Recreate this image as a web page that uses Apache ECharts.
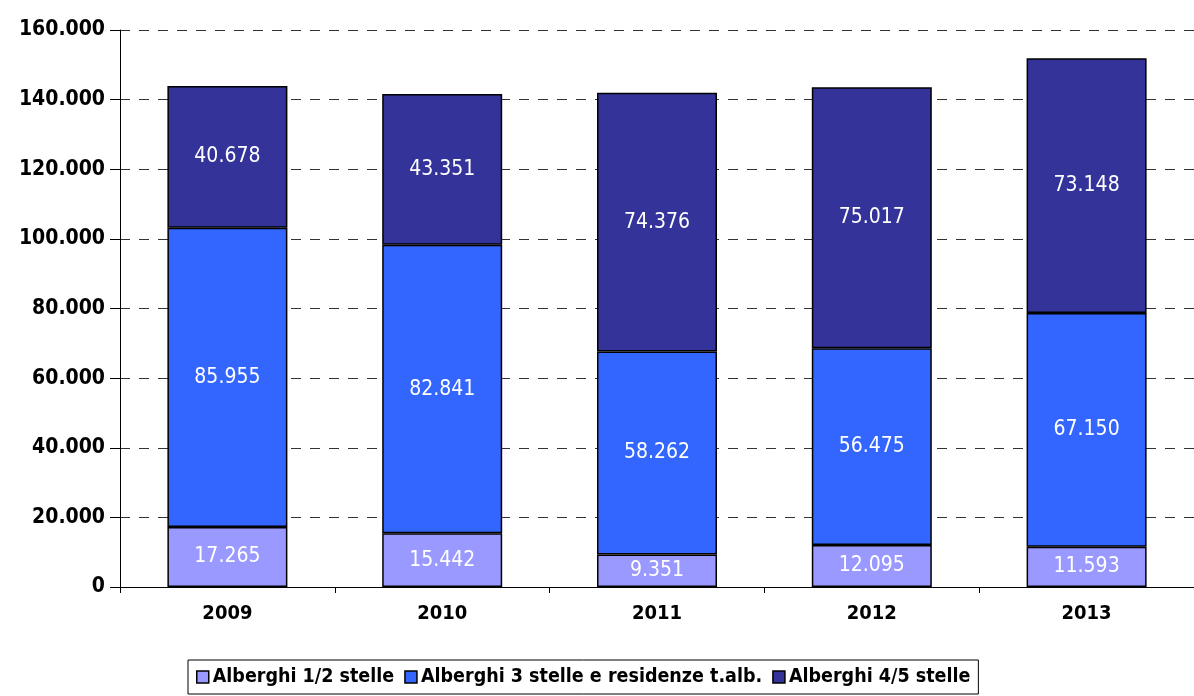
<!DOCTYPE html>
<html>
<head>
<meta charset="utf-8">
<script src="https://cdn.jsdelivr.net/npm/echarts@6/dist/echarts.min.js"></script>
<style>
  html, body { margin: 0; padding: 0; background: #fff; }
  #chart { width: 1194px; height: 696px; }
</style>
</head>
<body>
<div id="chart"></div>
<script>
// dati
var anni = ['2009', '2010', '2011', '2012', '2013'];
var stelle12 = [17265, 15442, 9351, 12095, 11593];
var stelle3 = [85955, 82841, 58262, 56475, 67150];
var stelle45 = [40678, 43351, 74376, 75017, 73148];
var nomiSerie = ['Alberghi 1/2 stelle', 'Alberghi 3 stelle e residenze t.alb.', 'Alberghi 4/5 stelle'];
var colori = ['#9999FF', '#3366FF', '#333399'];

var font = '"Liberation Sans Narrow", "Arial Narrow", "DejaVu Sans Condensed", sans-serif';

function fmt(v) {
    return String(v).replace(/\B(?=(\d{3})+(?!\d))/g, '.');
}

var chart = echarts.init(document.getElementById('chart'));

function serie(i, data) {
    return {
        name: nomiSerie[i],
        type: 'bar',
        stack: 'tot',
        barWidth: 120,
        data: data,
        itemStyle: {
            color: colori[i],
            borderColor: '#000',
            borderWidth: 1.5
        },
        label: {
            show: true,
            position: 'inside',
            color: '#fff',
            fontFamily: font,
            fontSize: 21,
            formatter: function (p) { return fmt(p.value); }
        }
    };
}

chart.setOption({
    animation: false,
    textStyle: { fontFamily: font },
    grid: {
        left: 120,
        right: -11,
        top: 30,
        bottom: 109
    },
    legend: {
        bottom: 2,
        left: 188,
        data: nomiSerie,
        itemWidth: 12,
        itemHeight: 12,
        itemGap: 10,
        padding: [7, 8, 7, 8],
        borderColor: '#000',
        borderWidth: 1,
        borderRadius: 0,
        icon: 'rect',
        itemStyle: { borderColor: '#000', borderWidth: 1.5 },
        textStyle: {
            fontFamily: font,
            fontSize: 19.5,
            fontWeight: 'bold',
            color: '#000',
            padding: [0, 0, 0, -1]
        }
    },
    xAxis: {
        type: 'category',
        data: anni,
        axisLine: { lineStyle: { color: '#000', width: 1 } },
        axisTick: { show: true, length: 6, lineStyle: { color: '#000' } },
        axisLabel: {
            color: '#000',
            fontFamily: font,
            fontSize: 20,
            fontWeight: 'bold',
            margin: 17
        }
    },
    yAxis: {
        type: 'value',
        min: 0,
        max: 160000,
        interval: 20000,
        axisLine: { show: true, lineStyle: { color: '#000', width: 1 } },
        axisTick: { show: true, length: 10, lineStyle: { color: '#000' } },
        axisLabel: {
            color: '#000',
            fontFamily: font,
            fontSize: 21,
            fontWeight: 'bold',
            margin: 15,
            formatter: function (v) { return fmt(v); }
        },
        splitLine: {
            show: true,
            lineStyle: { color: '#333', type: [10, 9], width: 1 }
        }
    },
    series: [
        serie(0, stelle12),
        serie(1, stelle3),
        serie(2, stelle45)
    ]
});
</script>
</body>
</html>
